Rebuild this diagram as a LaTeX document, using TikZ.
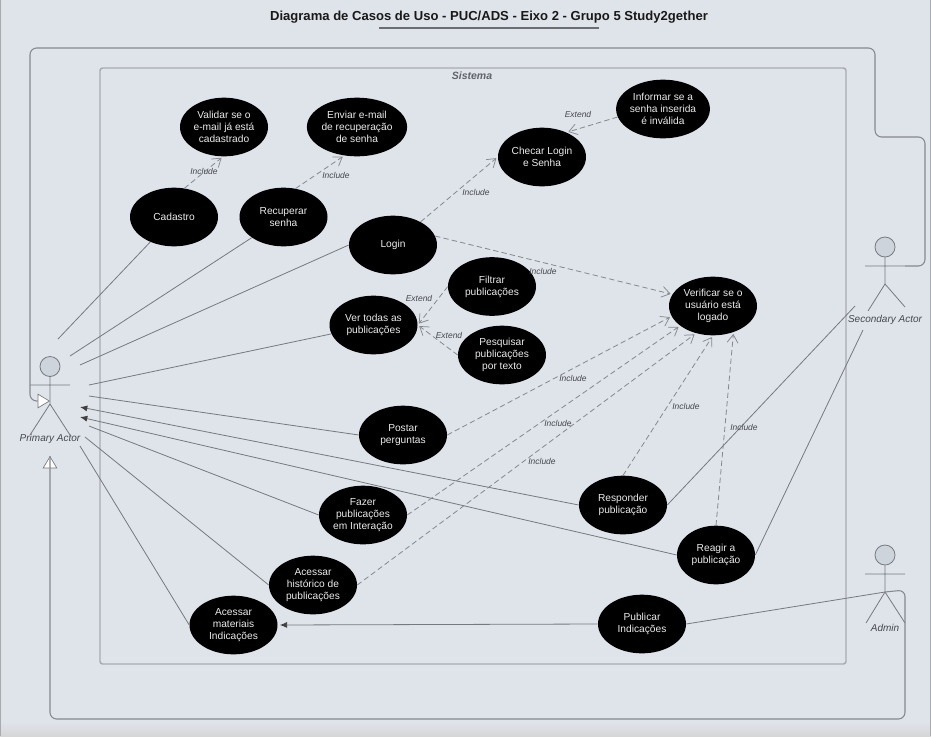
\documentclass[tikz,border=0pt]{standalone}
\usepackage{fontspec}
\setmainfont{Liberation Sans}
\usetikzlibrary{arrows.meta,shapes.geometric}
\definecolor{bgc}{HTML}{DFE3EA}
\definecolor{linec}{HTML}{76797F}
\definecolor{depc}{HTML}{85888D}
\definecolor{sysc}{HTML}{A8ABB0}
\definecolor{genc}{HTML}{85888E}
\definecolor{headc}{HTML}{CED4DC}
\definecolor{txtc}{HTML}{45484D}
\definecolor{ultc}{HTML}{6C6C74}
\tikzset{
  usecase/.style={ellipse,fill=black,text=white!92!black,minimum width=66pt,minimum height=44pt,inner sep=0pt,align=center,font=\fontsize{7.65}{8.9}\selectfont},
  assoc/.style={draw=linec,line width=0.6pt},
  assocarrow/.style={assoc,-{Latex[length=5.5pt,width=4.5pt,black!75]}},
  dep/.style={draw=depc,line width=0.6pt,dash pattern=on 4pt off 2.4pt,shorten >=1.5pt,-{Straight Barb[length=6pt,width=8pt,line width=0.55pt,round]}},
  deplabel/.style={font=\fontsize{6.35}{7}\selectfont\itshape,text=txtc,inner sep=0pt},
  actorline/.style={draw=linec,line width=0.6pt},
  actorhead/.style={circle,draw=linec,fill=headc,line width=0.6pt,minimum size=15pt,inner sep=0pt},
  actorlabel/.style={font=\fontsize{7.5}{9}\selectfont\itshape,text=txtc,inner sep=0pt},
  gen/.style={draw=genc,line width=0.8pt,rounded corners=5pt},
  gentip/.style={isosceles triangle,isosceles triangle apex angle=62,draw=linec,fill=white,line width=0.5pt,minimum height=8.5pt,minimum width=9pt,inner sep=0pt}
}
\begin{document}
\begin{tikzpicture}[x=0.75pt,y=-0.75pt]
\useasboundingbox (0,0) rectangle (931,736);
\fill[bgc] (0,0) rectangle (931,736);
\shade[top color=bgc,bottom color=black!16] (0,722) rectangle (931,736);
\draw[sysc,line width=1pt] (0.5,0) -- (0.5,736) (930.5,0) -- (930.5,736);
% title
\node[font=\bfseries\fontsize{9.8}{12}\selectfont,inner sep=0pt,text=black!90] (title) at (489,17.5) {Diagrama de Casos de Uso - PUC/ADS - Eixo 2 - Grupo 5 Study2gether};
\coordinate (ulA) at (379,28); \coordinate (ulB) at (599,28);
\draw[ultc,line width=1.1pt] (ulA) -- (ulB);
% system
\node[draw=sysc,line width=1.1pt,rounded corners=2pt,minimum width=559.5pt,minimum height=447pt,inner sep=0pt] (sys) at (473,366) {};
\node[font=\bfseries\itshape\fontsize{7.9}{9}\selectfont,text=txtc!85!white,inner sep=0pt] (systitle) at (472,75.5) {Sistema};
% actors
\node[actorhead] (pah) at (50,366.5) {};
\coordinate (paN) at (50,404); \coordinate (paA) at (30,385); \coordinate (paB) at (70,385);
\coordinate (paL) at (30,435); \coordinate (paR) at (70,435);
\draw[actorline] (pah) -- (paN) -- (paL) (paN) -- (paR) (paA) -- (paB);
\node[actorlabel] (pal) at (50,438.5) {Primary Actor};
\node[actorhead] (sah) at (885,247) {};
\coordinate (saN) at (885,284); \coordinate (saA) at (865,266); \coordinate (saB) at (905,266);
\coordinate (saL) at (868,311); \coordinate (saR) at (905,307);
\draw[actorline] (sah) -- (saN) -- (saL) (saN) -- (saR) (saA) -- (saB);
\node[actorlabel] (sal) at (885,319.5) {Secondary Actor};
\node[actorhead] (adh) at (885,555) {};
\coordinate (adN) at (885,592); \coordinate (adA) at (865,574); \coordinate (adB) at (905,574);
\coordinate (adL) at (866,623); \coordinate (adR) at (905,623);
\draw[actorline] (adh) -- (adN) -- (adL) (adN) -- (adR) (adA) -- (adB);
\node[actorlabel] (adl) at (885,627.5) {Admin};
% generalisation paths
\node[gentip,anchor=apex,rotate=0] (g1) at (50,401) {};
\node[gentip,anchor=apex,rotate=90] (g2) at (50,456) {};
\draw[gen] (saB) -- (925,266) -- (925,137) -- (875,137) -- (875,48) -- (30,48) -- (30,401) -- (g1.west);
\draw[gen] (adN) -- (905,590) -- (905,719) -- (50,719) -- (g2.east);
% use cases
\node[usecase] (val) at (224,127) {Validar se o\\e-mail já está\\cadastrado};
\node[usecase] (env) at (357,127) {Enviar e-mail\\de recuperação\\de senha};
\node[usecase] (che) at (542,157) {Checar Login\\e Senha};
\node[usecase] (inf) at (663,109) {Informar se a\\senha inserida\\é inválida};
\node[usecase] (cad) at (174,217) {Cadastro};
\node[usecase] (rec) at (283.5,217) {Recuperar\\senha};
\node[usecase] (log) at (393,245) {Login};
\node[usecase] (fil) at (492,286.5) {Filtrar\\publicações};
\node[usecase] (tod) at (373.5,325) {Ver todas as\\publicações};
\node[usecase] (pes) at (502,355) {Pesquisar\\publicações\\por texto};
\node[usecase] (ver) at (713,306) {Verificar se o\\usuário está\\logado};
\node[usecase] (pos) at (403,435) {Postar\\perguntas};
\node[usecase] (res) at (623,505) {Responder\\publicação};
\node[usecase] (faz) at (363,515) {Fazer\\publicações\\em Interação};
\node[usecase,minimum width=58.5pt] (rea) at (716,555) {Reagir a\\publicação};
\node[usecase] (his) at (313,585) {Acessar\\histórico de\\publicações};
\node[usecase] (pub) at (642,624) {Publicar\\Indicações};
\node[usecase] (mat) at (233.5,625) {Acessar\\materiais\\Indicações};
% free ends around the primary actor
\coordinate (p1) at (58,339); \coordinate (p2) at (70,356); \coordinate (p3) at (80,365);
\coordinate (p4) at (89,385); \coordinate (p5) at (89,396); \coordinate (p6) at (80,407);
\coordinate (p7) at (80,417); \coordinate (p8) at (89,426); \coordinate (p9) at (85,437);
\coordinate (p10) at (80,446);
\coordinate (s1) at (855,306); \coordinate (s2) at (863,330);
% associations
\draw[assoc] (p1) -- (cad);
\draw[assoc] (p2) -- (rec);
\draw[assoc] (p3) -- (log.west);
\draw[assoc] (p4) -- (tod);
\draw[assoc] (p5) -- (pos.west);
\draw[assocarrow] (res.west) -- (p6);
\draw[assocarrow] (rea.west) -- (p7);
\draw[assoc] (p8) -- (faz.west);
\draw[assoc] (p9) -- (his.west);
\draw[assoc] (p10) -- (mat.west);
\draw[assoc] (res.east) -- (s1);
\draw[assoc] (rea.east) -- (s2);
\draw[assoc] (pub.east) -- (adN);
\draw[assocarrow,shorten >=1.5pt] (pub.west) -- (mat.east);
% dependencies
\draw[dep] (cad.70) -- (val.268);
\draw[dep] (rec.67) -- (env.246);
\draw[dep] (log.40) -- (che.west);
\draw[dep] (inf.190) -- (che.45);
\draw[dep] (fil.west) -- (tod.east);
\draw[dep] (pes.west) -- (tod.east);
\draw[dep] (log.12) -- (ver.164);
\draw[dep] (pos.east) -- (ver.194);
\draw[dep] (faz.east) -- (ver.211);
\draw[dep] (his.east) -- (ver.238);
\draw[dep] (res.north) -- (ver.270);
\draw[dep] (rea.north) -- (ver.308);
% dependency labels
\node[deplabel] (l1) at (204,171) {Include};
\node[deplabel] (l2) at (336,175) {Include};
\node[deplabel] (l3) at (476,192) {Include};
\node[deplabel] (l4) at (578,114) {Extend};
\node[deplabel] (l5) at (419,298) {Extend};
\node[deplabel] (l6) at (449,335) {Extend};
\node[deplabel] (l7) at (543,271) {Include};
\node[deplabel] (l8) at (573,378) {Include};
\node[deplabel] (l9) at (558,423) {Include};
\node[deplabel] (l10) at (542,461) {Include};
\node[deplabel] (l11) at (686,406) {Include};
\node[deplabel] (l12) at (744,427) {Include};
\end{tikzpicture}
\end{document}
